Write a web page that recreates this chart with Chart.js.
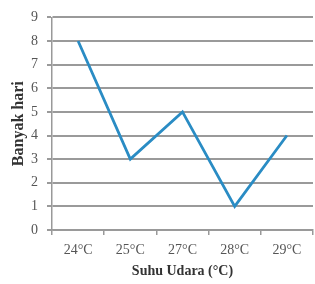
<!DOCTYPE html>
<html><head><meta charset="utf-8">
<script src="https://cdn.jsdelivr.net/npm/chart.js@4/dist/chart.umd.min.js"></script>
<style>html,body{margin:0;padding:0;background:#fff;}#c{display:block;}</style>
</head><body>
<canvas id="c" width="315" height="284"></canvas>
<script>
const categories = ["24°C", "25°C", "27°C", "28°C", "29°C"];
const days = [8, 3, 5, 1, 4];
const yTicks = [0, 1, 2, 3, 4, 5, 6, 7, 8, 9];

const serif = "'Liberation Serif', 'Times New Roman', serif";
new Chart(document.getElementById('c'), {
  type: 'line',
  data: { labels: categories, datasets: [{ data: days, borderColor: '#2a8cc4', borderWidth: 2.8, pointRadius: 0, tension: 0, fill: false }] },
  options: {
    responsive: false, animation: false,
    plugins: { legend: { display: false }, tooltip: { enabled: false } },
    layout: { padding: { top: 17, right: 2, left: 7, bottom: 6 } },
    scales: {
      x: {
        offset: true,
        afterFit: (s) => { s.height = 48; },
        grid: { offset: true, drawOnChartArea: false, drawTicks: true, tickLength: 5, color: '#999', lineWidth: 1.5 },
        border: { color: '#999', width: 1.5 },
        ticks: { color: '#555', font: { family: serif, size: 14, lineHeight: 1 }, padding: 8, maxRotation: 0 },
        title: { display: true, text: 'Suhu Udara (°C)', color: '#333', font: { family: serif, size: 14, weight: 'bold', lineHeight: 1 }, padding: { top: 0, bottom: 0 } }
      },
      y: {
        min: 0, max: 9,
        afterFit: (s) => { s.width = 45; },
        afterBuildTicks: (s) => { s.ticks = yTicks.map(v => ({ value: v })); },
        grid: { color: '#9a9a9a', lineWidth: 2, tickLength: 5 },
        border: { color: '#999', width: 1.5 },
        ticks: { color: '#555', font: { family: serif, size: 14 }, padding: 9 },
        title: { display: true, text: 'Banyak hari', color: '#333', font: { family: serif, size: 16, weight: 'bold' }, padding: { top: 2, bottom: 2 } }
      }
    }
  }
});
</script>
</body></html>
